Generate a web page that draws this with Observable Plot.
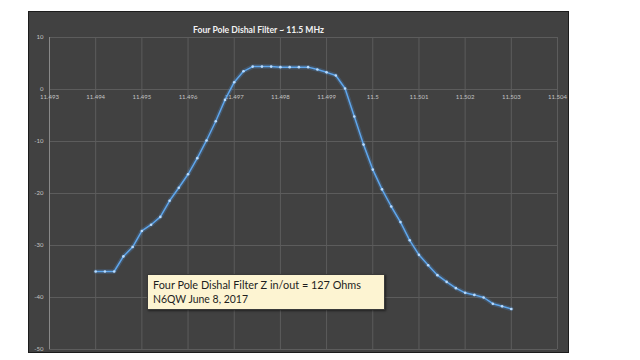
<!DOCTYPE html>
<html><head><meta charset="utf-8">
<script src="https://cdn.jsdelivr.net/npm/d3@7"></script>
<script src="https://cdn.jsdelivr.net/npm/@observablehq/plot@0.6"></script>
<style>
body{margin:0;background:#fff;}
#wrap{position:relative;width:640px;height:360px;overflow:hidden;background:#fff;}
#panel{position:absolute;left:28px;top:11px;width:539px;height:340px;background:#414141;border:1px solid #1c1c1c;}
#chart{position:absolute;left:0;top:0;}
.fit{display:inline-block;white-space:nowrap;transform-origin:0 50%;}
#title{position:absolute;left:193px;top:23px;color:#f2f2f2;font:bold 10px Lato,"Open Sans",sans-serif;line-height:12px;}
#note{position:absolute;left:147px;top:274px;width:238px;height:36px;box-sizing:border-box;background:#fdf4d2;border:1px solid #3a3a3a;box-shadow:1px 1px 2px rgba(0,0,0,0.5);padding:3px 0 0 5px;color:#1e1e1e;font:12px Lato,"Open Sans",sans-serif;line-height:14px;}
#note .fit{display:block;width:max-content;}
</style></head>
<body>
<div id="wrap">
  <div id="panel"></div>
  <div id="chart"></div>
  <div id="title"><span class="fit" data-w="131">Four Pole Dishal Filter ~ 11.5 MHz</span></div>
  <div id="note"><span class="fit" data-w="208">Four Pole Dishal Filter Z in/out = 127 Ohms</span><span class="fit" data-w="95">N6QW June 8, 2017</span></div>
</div>
<script>
const freqMHz = [
  11.4940,11.4942,11.4944,11.4946,11.4948,11.4950,11.4952,11.4954,11.4956,11.4958,
  11.4960,11.4962,11.4964,11.4966,11.4968,11.4970,11.4972,11.4974,11.4976,11.4978,
  11.4980,11.4982,11.4984,11.4986,11.4988,11.4990,11.4992,11.4994,11.4996,11.4998,
  11.5000,11.5002,11.5004,11.5006,11.5008,11.5010,11.5012,11.5014,11.5016,11.5018,
  11.5020,11.5022,11.5024,11.5026,11.5028,11.5030
];
const responseDb = [
  -35.0,-35.0,-35.0,-32.1,-30.3,-27.2,-26.0,-24.5,-21.4,-18.9,
  -16.3,-13.2,-9.8,-6.1,-2.0,1.4,3.5,4.4,4.4,4.4,
  4.3,4.3,4.3,4.3,3.85,3.3,2.7,0.2,-5.2,-10.6,
  -15.4,-19.2,-22.5,-25.5,-29.0,-31.8,-33.8,-35.7,-37.0,-38.2,
  -39.1,-39.5,-40.0,-41.2,-41.7,-42.2
];
const xTicks = [11.493,11.494,11.495,11.496,11.497,11.498,11.499,11.500,11.501,11.502,11.503,11.504];
const xTickLabels = ["11.493","11.494","11.495","11.496","11.497","11.498","11.499","11.5","11.501","11.502","11.503","11.504"];
const yTicks = [10,0,-10,-20,-30,-40,-50];
const yTickLabels = ["10","0","-10","-20","-30","-40","-50"];

const data = freqMHz.map((f,i)=>({f, db: responseDb[i]}));
const xt = xTicks.map((v,i)=>({v, label: xTickLabels[i]}));
const yt = yTicks.map((v,i)=>({v, label: yTickLabels[i]}));

const plot = Plot.plot({
  width: 640, height: 360,
  marginLeft: 49, marginRight: 83, marginTop: 37, marginBottom: 11,
  style: {background: "transparent", fontFamily: "Lato, sans-serif"},
  x: {domain: [11.493, 11.504], axis: null},
  y: {domain: [-50, 10], axis: null},
  marks: [
    Plot.ruleX(xTicks.slice(1), {stroke: "#5c5c5c", strokeWidth: 1}),
    Plot.ruleY(yTicks, {stroke: "#5c5c5c", strokeWidth: 1}),
    Plot.ruleX([11.493], {stroke: "#888888", strokeWidth: 1}),
    Plot.text(xt, {x: "v", y: () => 0, text: "label", dy: 7.5, fill: "#c4c4c4", fontSize: 6}),
    Plot.text(yt, {x: () => 11.493, y: "v", text: "label", dx: -6, textAnchor: "end", fill: "#c4c4c4", fontSize: 6}),
    Plot.line(data, {x: "f", y: "db", stroke: "#4f95dc", strokeWidth: 4.5, strokeOpacity: 0.25}),
    Plot.line(data, {x: "f", y: "db", stroke: "#5fa6ec", strokeWidth: 1.5}),
    Plot.dot(data, {x: "f", y: "db", r: 1.3, fill: "#b9dcff", stroke: "none"})
  ]
});
document.getElementById("chart").appendChild(plot);
document.querySelectorAll(".fit").forEach(el => {
  const w = el.getBoundingClientRect().width;
  const target = +el.dataset.w;
  if (w > 0) el.style.transform = `scaleX(${target / w})`;
});
</script>
</body></html>
